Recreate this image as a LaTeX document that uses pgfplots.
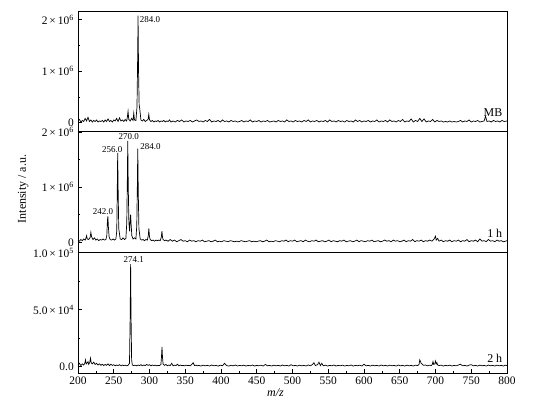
\documentclass[border=0pt]{standalone}
\usepackage{fontspec}
\setmainfont{Liberation Serif}
\usepackage{pgfplots}
\pgfplotsset{compat=1.18}

\pgfplotsset{
  panel/.style={
    scale only axis, width=429bp, height=121bp,
    xmin=200, xmax=800,
    axis line style={line width=0.8pt},
    every tick/.style={black, line width=0.6pt},
    tick align=inside, ytick pos=left, xtick pos=bottom,
    major tick length=4bp, minor tick length=2.5bp,
    yticklabel style={font=\fontsize{11.5}{12}\selectfont, inner sep=0.5pt, xshift=-3.5pt},
    xticklabel style={font=\fontsize{11.5}{13}\selectfont},
    /pgf/number format/assume math mode=true,
  },
  spec/.style={black, line width=0.7pt, mark=none},
}
\tikzset{
  peak/.style={font=\fontsize{9}{10}\selectfont, inner sep=1pt},
  tag/.style={font=\fontsize{12}{13}\selectfont, inner sep=1pt, anchor=south east},
}

\begin{document}
\begin{tikzpicture}
\useasboundingbox (-78bp,-29bp) rectangle (467bp,373bp);

% ---- top panel: MB ----
\begin{axis}[panel, at={(0bp,242bp)}, height=120bp,
    ymin=-0.165, ymax=2.17,
    xtick=\empty,
    ytick={0,1,2}, minor ytick={0.5,1.5},
    yticklabels={0, 1\,×\,10\textsuperscript{6}, 2\,×\,10\textsuperscript{6}}]
\addplot[spec] coordinates {
(200,0.03)(202,0.06)(204,0.01)(206,0.04)(208,0.02)(210,0.08)(212,0.03)(214,0.10)(216,0.02)(218,0.05)
(220,0.01)(222,0.04)(224,0.02)(226,0.05)(228,0.01)(230,0.03)(232,0.02)(234,0.04)(236,0.01)(238,0.05)
(240,0.02)(242,0.07)(244,0.02)(246,0.04)(248,0.01)(250,0.05)(252,0.03)(254,0.08)(256,0.02)(258,0.09)
(260,0.03)(262,0.05)(264,0.02)(266,0.06)(268,0.03)(269,0.10)(270,0.22)(271,0.06)(273,0.03)(275,0.08)
(277,0.04)(278,0.18)(279,0.05)(281,0.04)(282.5,0.30)(283.3,1.10)(284,2.08)(284.7,1.00)(285.5,0.35)(286.5,0.25)
(288,0.05)(290,0.03)(292,0.06)(294,0.02)(296,0.04)(298,0.06)(299,0.16)(300,0.05)(302,0.02)(304,0.04)
(306,0.01)(308,0.03)(310,0.02)(312,0.04)(314,0.01)(316,0.03)(318,0.02)(320,0.04)(322,0.01)(324,0.03)
(326,0.02)(328,0.05)(330,0.01)(333,0.03)(336,0.01)(339,0.04)(342,0.02)(345,0.05)(348,0.01)(351,0.03)
(354,0.02)(357,0.04)(360,0.01)(363,0.03)(366,0.05)(369,0.02)(372,0.03)(375,0.01)(378,0.04)(381,0.02)
(384,0.06)(387,0.01)(390,0.03)(393,0.02)(396,0.04)(399,0.01)(402,0.05)(405,0.02)(408,0.03)(411,0.01)
(414,0.04)(417,0.02)(420,0.03)(423,0.01)(426,0.02)(429,0.04)(432,0.01)(435,0.03)(438,0.02)(441,0.05)
(444,0.01)(447,0.03)(450,0.02)(453,0.04)(456,0.01)(459,0.03)(462,0.02)(465,0.04)(468,0.01)(471,0.02)
(474,0.03)(477,0.01)(480,0.04)(483,0.02)(486,0.03)(489,0.01)(492,0.05)(495,0.02)(498,0.03)(501,0.01)
(504,0.04)(507,0.02)(510,0.03)(513,0.01)(516,0.04)(519,0.02)(522,0.05)(525,0.01)(528,0.03)(531,0.02)
(534,0.04)(537,0.01)(540,0.03)(543,0.02)(546,0.04)(549,0.01)(552,0.05)(555,0.02)(558,0.03)(561,0.01)
(564,0.04)(567,0.02)(570,0.03)(573,0.01)(576,0.04)(579,0.02)(582,0.03)(585,0.01)(588,0.05)(591,0.02)
(594,0.04)(597,0.01)(600,0.03)(603,0.02)(606,0.04)(609,0.01)(612,0.03)(615,0.02)(618,0.05)(621,0.01)
(624,0.03)(627,0.02)(630,0.04)(633,0.01)(636,0.05)(639,0.02)(642,0.03)(645,0.01)(648,0.04)(651,0.02)
(654,0.06)(657,0.01)(660,0.03)(663,0.02)(666,0.07)(669,0.01)(672,0.04)(675,0.02)(678,0.08)(681,0.02)
(684,0.07)(687,0.01)(690,0.03)(693,0.02)(696,0.06)(699,0.01)(702,0.04)(705,0.02)(708,0.03)(711,0.01)
(714,0.02)(717,0.01)(720,0.03)(723,0.01)(726,0.02)(729,0.01)(732,0.02)(735,0.04)(738,0.01)(741,0.03)
(744,0.02)(747,0.05)(750,0.01)(753,0.03)(756,0.02)(759,0.04)(762,0.01)(765,0.02)(768,0.03)(770,0.12)
(772,0.02)(775,0.03)(778,0.01)(781,0.04)(784,0.02)(787,0.03)(790,0.01)(793,0.04)(796,0.02)(800,0.03)
};
\node[peak, anchor=north west] at (axis cs:284.8,2.08) {284.0};
\node[tag] at (axis cs:795,0.09) {MB};
\end{axis}

% ---- middle panel: 1 h ----
\begin{axis}[panel, at={(0bp,121bp)},
    ymin=-0.176, ymax=2.018,
    xtick=\empty,
    ytick={0,1,2}, minor ytick={0.5,1.5},
    yticklabels={0, 1\,×\,10\textsuperscript{6}, 2\,×\,10\textsuperscript{6}},
    ylabel={Intensity / a.u.},
    ylabel style={font=\fontsize{12}{13}\selectfont, at={(rel axis cs:-0.107,0.52)}, anchor=south}]
\addplot[spec] coordinates {
(200,0.04)(202,0.02)(204,0.05)(206,0.03)(208,0.06)(210,0.04)(211,0.07)(212,0.12)(213,0.06)(215,0.05)
(217,0.09)(218,0.18)(219,0.10)(221,0.05)(223,0.08)(225,0.04)(227,0.06)(229,0.03)(231,0.05)(233,0.04)
(235,0.06)(237,0.04)(239,0.05)(240.3,0.12)(241.2,0.40)(241.8,0.47)(242.5,0.28)(243.5,0.10)(245,0.05)(247,0.04)
(249,0.06)(251,0.04)(253,0.06)(254.2,0.20)(254.9,0.90)(255.5,1.62)(256.2,0.90)(257,0.25)(259,0.06)(261,0.05)
(263,0.08)(265,0.05)(267,0.07)(268.2,0.35)(269,1.10)(269.6,1.84)(270.3,1.00)(271.2,0.35)(272.2,0.20)(273,0.42)
(273.6,0.50)(274.3,0.33)(275.3,0.12)(277,0.06)(279,0.08)(281,0.06)(282.2,0.30)(283,1.00)(283.6,1.70)(284.3,0.90)
(285.2,0.25)(287,0.06)(289,0.04)(291,0.05)(293,0.03)(295,0.05)(297,0.04)(298.3,0.12)(299.1,0.25)(300,0.10)
(301,0.05)(303,0.03)(305,0.04)(307,0.02)(309,0.04)(311,0.03)(313,0.04)(315,0.03)(316.5,0.09)(317.4,0.20)
(318.2,0.09)(319,0.05)(321,0.03)(323,0.04)(326,0.02)(329,0.05)(332,0.02)(335,0.04)(338,0.01)(341,0.03)
(344,0.05)(347,0.02)(350,0.03)(353,0.01)(356,0.04)(359,0.02)(362,0.03)(365,0.01)(368,0.03)(371,0.02)
(374,0.04)(377,0.01)(380,0.02)(383,0.03)(386,0.01)(389,0.02)(392,0.04)(395,0.01)(398,0.02)(401,0.01)
(404,0.03)(407,0.02)(410,0.01)(413,0.03)(416,0.02)(419,0.01)(422,0.02)(425,0.01)(428,0.03)(431,0.02)
(434,0.01)(437,0.02)(440,0.03)(443,0.01)(446,0.02)(449,0.01)(452,0.02)(455,0.03)(458,0.01)(461,0.02)
(464,0.04)(467,0.01)(470,0.02)(473,0.01)(476,0.03)(479,0.02)(482,0.01)(485,0.03)(488,0.02)(491,0.04)
(494,0.01)(497,0.03)(500,0.02)(503,0.04)(506,0.01)(509,0.02)(512,0.03)(515,0.01)(518,0.04)(521,0.02)
(524,0.01)(527,0.03)(530,0.02)(533,0.04)(536,0.01)(539,0.02)(542,0.03)(545,0.01)(548,0.02)(551,0.04)
(554,0.01)(557,0.03)(560,0.02)(563,0.01)(566,0.03)(569,0.02)(572,0.04)(575,0.01)(578,0.02)(581,0.03)
(584,0.01)(587,0.02)(590,0.04)(593,0.01)(596,0.03)(599,0.02)(602,0.01)(605,0.03)(608,0.02)(611,0.04)
(614,0.01)(617,0.02)(620,0.03)(623,0.01)(626,0.02)(629,0.04)(632,0.02)(635,0.03)(638,0.01)(641,0.04)
(644,0.02)(647,0.03)(650,0.01)(653,0.02)(656,0.04)(659,0.01)(662,0.03)(665,0.02)(668,0.05)(671,0.01)
(674,0.03)(677,0.02)(680,0.04)(683,0.01)(686,0.03)(689,0.02)(692,0.04)(695,0.02)(698,0.06)(700,0.11)
(701,0.04)(703,0.07)(705,0.02)(708,0.04)(711,0.01)(714,0.03)(717,0.02)(720,0.04)(723,0.01)(726,0.03)
(729,0.02)(732,0.04)(735,0.01)(738,0.03)(741,0.02)(744,0.05)(747,0.01)(750,0.03)(753,0.02)(756,0.04)
(759,0.01)(762,0.06)(765,0.02)(768,0.03)(771,0.01)(774,0.05)(777,0.02)(780,0.03)(783,0.01)(786,0.04)
(789,0.02)(792,0.03)(795,0.01)(798,0.02)(800,0.03)
};
\node[peak, anchor=south] at (axis cs:235,0.48) {242.0};
\node[peak, anchor=south] at (axis cs:248,1.61) {256.0};
\node[peak, anchor=south] at (axis cs:271,1.84) {270.0};
\node[peak, anchor=west] at (axis cs:285.5,1.74) {284.0};
\node[tag] at (axis cs:795,0.07) {1 h};
\end{axis}

% ---- bottom panel: 2 h ----
\begin{axis}[panel, at={(0bp,0bp)},
    ymin=-0.55, ymax=10.06,
    xtick={200,250,...,800}, minor x tick num=1,
    xlabel={\textit{m/z}},
    xlabel style={font=\fontsize{12}{13}\selectfont, xshift=-17bp, yshift=2bp},
    ytick={0,5,10}, minor ytick={2.5,7.5},
    yticklabels={0.0, 5.0\,×\,10\textsuperscript{4}, 1.0\,×\,10\textsuperscript{5}}]
\addplot[spec] coordinates {
(200,0.15)(202,0.30)(204,0.10)(206,0.25)(208,0.15)(209.5,0.30)(210.5,0.60)(211.5,0.25)(213,0.35)(214,0.45)
(215,0.20)(216.5,0.40)(217.5,0.75)(218.5,0.35)(220,0.25)(222,0.40)(224,0.20)(226,0.30)(228,0.15)(230,0.25)
(232,0.12)(234,0.22)(236,0.10)(238,0.20)(240,0.12)(242,0.25)(244,0.10)(246,0.22)(248,0.12)(250,0.18)
(252,0.08)(254,0.15)(256,0.10)(258,0.18)(260,0.08)(262,0.15)(264,0.10)(266,0.14)(268,0.08)(270,0.12)
(272,0.30)(273,4.50)(273.6,9.00)(274.2,4.50)(275,0.60)(276,0.15)(278,0.10)(280,0.14)(282,0.08)(284,0.15)
(286,0.10)(288,0.18)(290,0.08)(292,0.15)(294,0.10)(296,0.20)(298,0.12)(300,0.18)(302,0.08)(304,0.15)
(306,0.10)(308,0.14)(310,0.08)(312,0.12)(314,0.10)(316,0.20)(316.8,0.90)(317.5,1.75)(318.2,0.80)(319,0.25)
(321,0.12)(323,0.20)(325,0.08)(327,0.15)(329,0.10)(331,0.30)(333,0.08)(335,0.14)(337,0.10)(339,0.22)
(341,0.08)(343,0.15)(345,0.10)(347,0.12)(349,0.08)(351,0.14)(353,0.10)(355,0.12)(357,0.08)(359,0.20)
(361,0.35)(363,0.10)(365,0.14)(367,0.08)(369,0.12)(372,0.06)(375,0.14)(378,0.08)(381,0.12)(384,0.06)
(387,0.15)(390,0.08)(393,0.12)(396,0.05)(399,0.14)(402,0.08)(405,0.30)(408,0.10)(411,0.06)(414,0.13)
(417,0.08)(420,0.15)(423,0.06)(426,0.12)(429,0.08)(432,0.14)(435,0.06)(438,0.12)(441,0.08)(444,0.15)
(447,0.06)(450,0.12)(453,0.08)(456,0.14)(459,0.06)(462,0.20)(465,0.08)(468,0.12)(471,0.06)(474,0.14)
(477,0.08)(480,0.12)(483,0.06)(486,0.15)(489,0.08)(492,0.12)(495,0.06)(498,0.18)(501,0.08)(504,0.12)
(507,0.06)(510,0.14)(513,0.08)(516,0.12)(519,0.06)(522,0.16)(525,0.08)(528,0.20)(530,0.35)(532,0.10)
(535,0.18)(537,0.40)(539,0.10)(541,0.30)(543,0.08)(546,0.14)(549,0.06)(552,0.12)(555,0.08)(558,0.15)
(561,0.06)(564,0.12)(567,0.08)(570,0.14)(573,0.06)(576,0.12)(579,0.08)(582,0.15)(585,0.06)(588,0.12)
(591,0.08)(594,0.14)(597,0.06)(600,0.22)(603,0.08)(606,0.12)(609,0.06)(612,0.14)(615,0.08)(618,0.12)
(621,0.06)(624,0.15)(627,0.08)(630,0.12)(633,0.06)(636,0.14)(639,0.08)(642,0.12)(645,0.06)(648,0.15)
(651,0.08)(654,0.12)(657,0.06)(660,0.14)(663,0.08)(666,0.12)(669,0.06)(672,0.14)(675,0.10)(677,0.20)
(678,0.60)(679,0.45)(680,0.30)(681.5,0.22)(683,0.12)(686,0.15)(689,0.08)(692,0.14)(694,0.10)(695.5,0.20)
(696.5,0.45)(697.5,0.20)(699,0.25)(700,0.50)(701,0.25)(702,0.35)(703,0.15)(705,0.10)(708,0.14)(711,0.06)
(714,0.12)(717,0.08)(720,0.14)(723,0.06)(726,0.12)(729,0.08)(732,0.15)(735,0.22)(738,0.08)(741,0.12)
(744,0.06)(747,0.14)(750,0.18)(753,0.08)(756,0.12)(759,0.06)(762,0.14)(765,0.08)(768,0.12)(771,0.06)
(774,0.15)(777,0.08)(780,0.12)(783,0.06)(786,0.14)(789,0.08)(792,0.12)(795,0.06)(798,0.14)(800,0.10)
};
\node[peak, anchor=south] at (axis cs:278,9.05) {274.1};
\node[tag] at (axis cs:795,0.3) {2 h};
\end{axis}
\end{tikzpicture}
\end{document}
